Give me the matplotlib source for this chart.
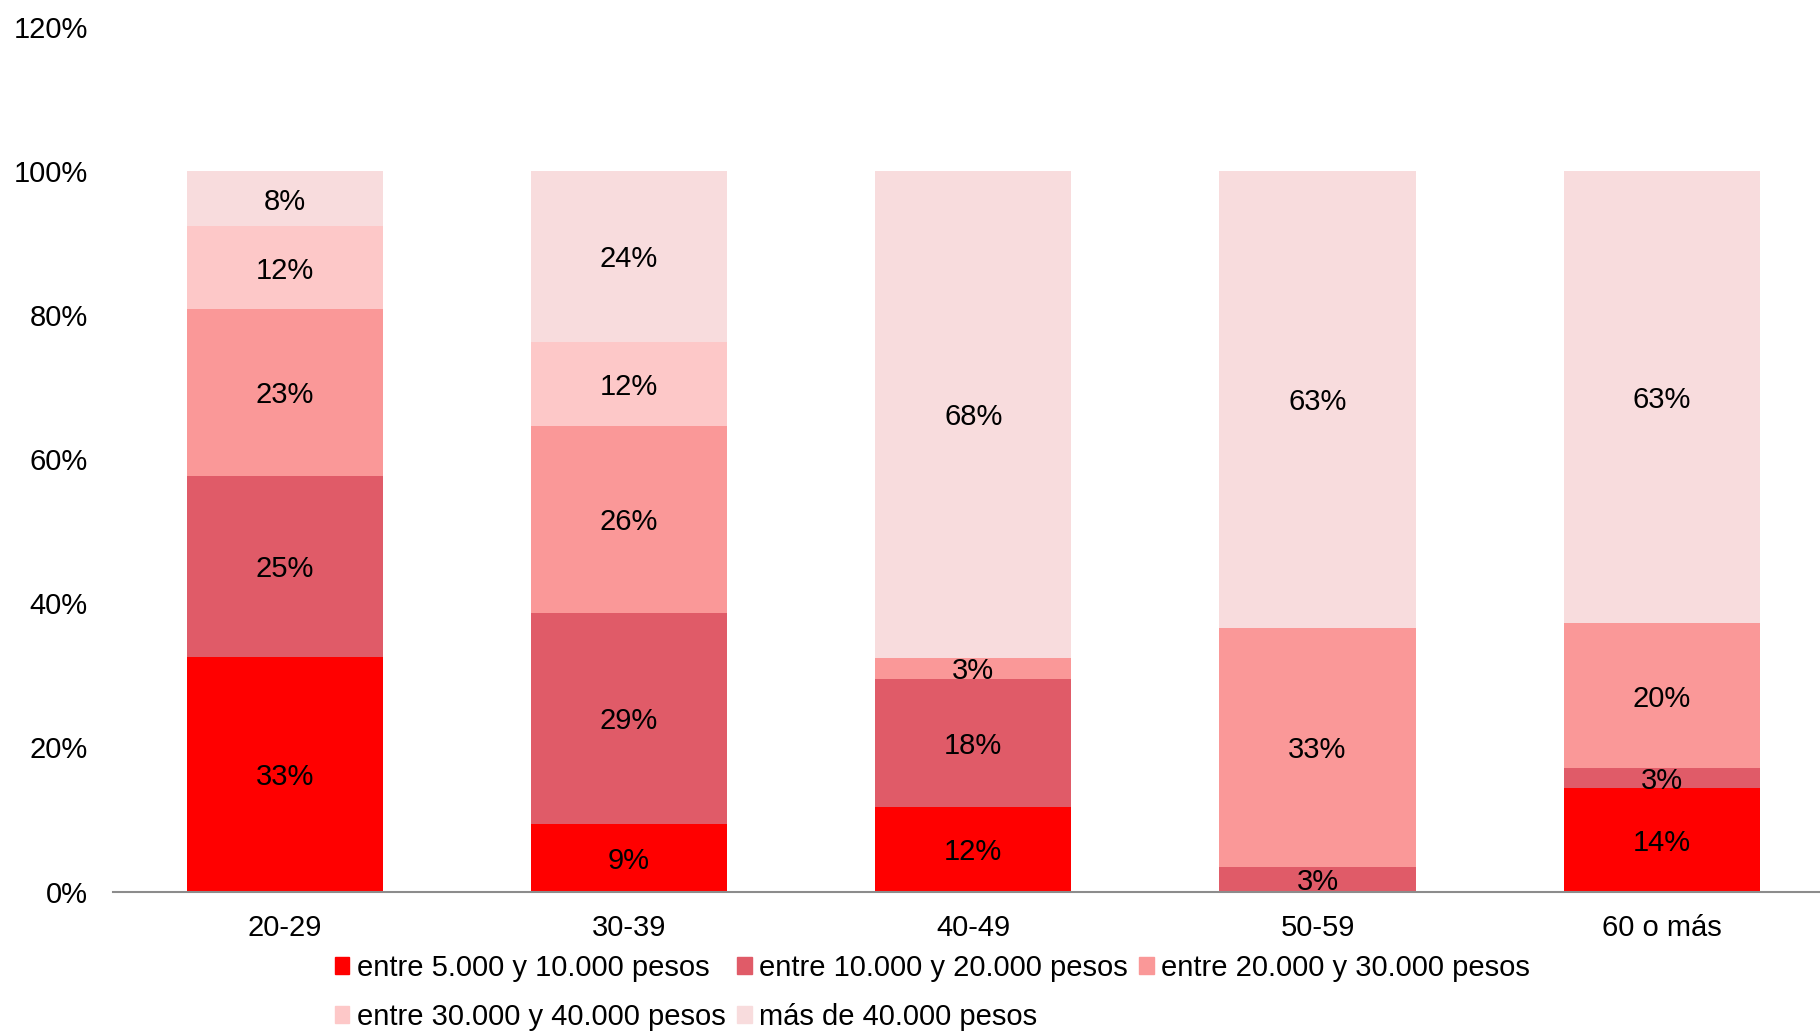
import matplotlib
matplotlib.use("Agg")
import matplotlib.pyplot as plt
import numpy as np
from matplotlib.patches import Patch
from matplotlib.ticker import PercentFormatter

plt.rcParams["font.family"] = ["Liberation Sans", "DejaVu Sans"]

# age groups and income brackets (shares in %)
ages = ["20-29", "30-39", "40-49", "50-59", "60 o más"]
series = [
    "entre 5.000 y 10.000 pesos",
    "entre 10.000 y 20.000 pesos",
    "entre 20.000 y 30.000 pesos",
    "entre 30.000 y 40.000 pesos",
    "más de 40.000 pesos",
]
s_5_10 = [32.6, 9.4, 11.8, 0.0, 14.4]
s_10_20 = [25.1, 29.3, 17.7, 3.4, 2.7]
s_20_30 = [23.1, 25.9, 2.9, 33.2, 20.2]
s_30_40 = [11.5, 11.7, 0.0, 0.0, 0.0]
s_40_plus = [7.7, 23.7, 67.6, 63.4, 62.7]
colors = ["#FF0000", "#E05B68", "#FA9898", "#FDC8C8", "#F8DCDD"]

values = [s_5_10, s_10_20, s_20_30, s_30_40, s_40_plus]
FS = 21

fig = plt.figure(figsize=(18.2, 10.35), dpi=100)
ax = fig.add_axes([0.062, 0.1386, 0.938, 0.8356])

x = np.arange(len(ages))
bottom = np.zeros(len(ages))
for vals, col in zip(values, colors):
    vals = np.array(vals) / 100
    ax.bar(x, vals, bottom=bottom, width=0.57, color=col, linewidth=0)
    for xi, b, v in zip(x, bottom, vals):
        if v > 0:
            ax.text(xi, b + v / 2, f"{round(v * 100):.0f}%", ha="center",
                    va="center_baseline", fontsize=FS, color="black")
    bottom += vals

ax.set_xlim(-0.5, 4.46)
ax.set_ylim(0, 1.2)
ax.set_yticks(np.arange(0, 1.21, 0.2))
ax.yaxis.set_major_formatter(PercentFormatter(1.0, decimals=0))
ax.set_xticks(x)
ax.set_xticklabels(ages)
ax.tick_params(axis="both", length=0, labelsize=FS)
ax.tick_params(axis="y", pad=18)
ax.tick_params(axis="x", pad=16)
for side in ["top", "right", "left"]:
    ax.spines[side].set_visible(False)
ax.spines["bottom"].set_color("#8C8C8C")
ax.spines["bottom"].set_linewidth(1.5)

handles = [Patch(color=c, label=s) for c, s in zip(colors, series)]
order = [0, 3, 1, 4, 2]
fig.legend([handles[i] for i in order], [series[i] for i in order],
           loc="upper left", bbox_to_anchor=(0.184, 0.0785), ncol=3,
           frameon=False, fontsize=FS, handlelength=0.5, handleheight=0.5,
           handletextpad=0.25, columnspacing=0.4, labelspacing=0.72,
           borderpad=0, borderaxespad=0)

fig.savefig("out.png", dpi=100)
